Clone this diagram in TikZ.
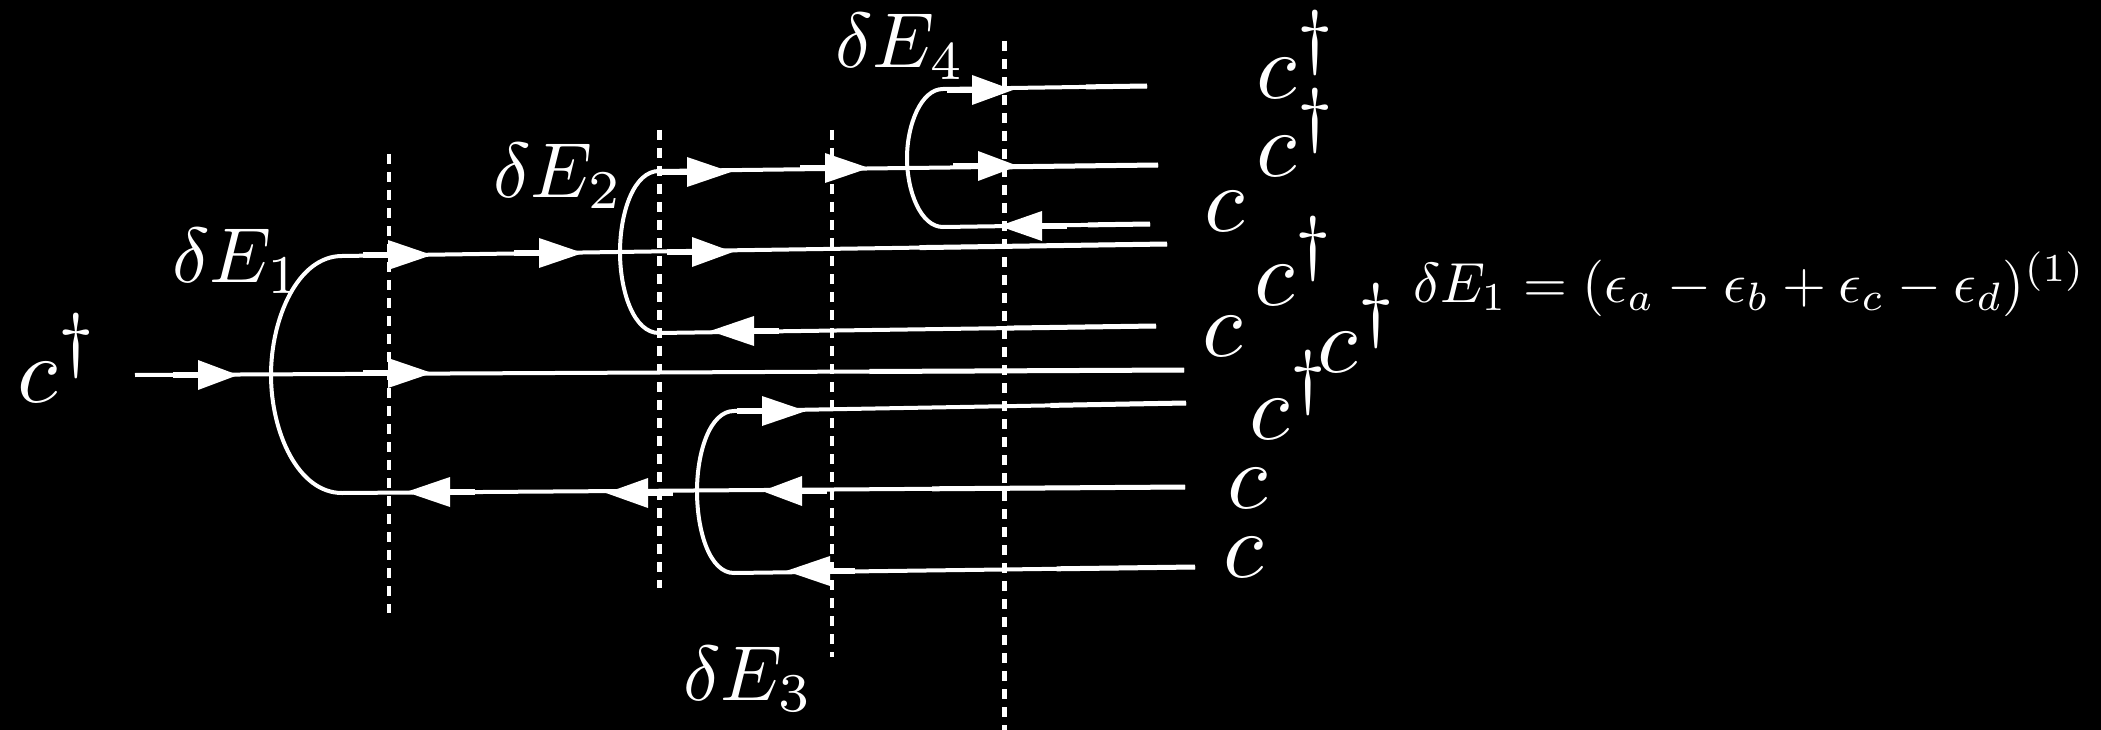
\documentclass[tikz,border=0pt]{standalone}
\usepackage{graphicx}
\usetikzlibrary{calc}
\newcommand{\dg}{\raisebox{0.5pt}{\scalebox{1.1}{$\scriptstyle\dagger$}}}
\begin{document}
\begin{tikzpicture}[x=1pt,y=-1pt,
  wline/.style={draw=white,line width=4pt},
  wend/.style={draw=white,line width=5pt},
  dline/.style={draw=white,line width=4.6pt,dash pattern=on 10pt off 8pt},
  op/.style={text=white,inner sep=0pt,outer sep=0pt,anchor=base west,scale=9.3},
  lab/.style={text=white,inner sep=0pt,outer sep=0pt,anchor=base west,scale=7.8},
  eqn/.style={text=white,inner sep=0pt,outer sep=0pt,anchor=base west,scale=5.65}]
\newcommand{\rarr}[3]{\fill[white] (#1,#3-15)--(#2,#3)--(#1,#3+15)--cycle; \draw[white,line width=6.5pt] (#1-25,#3)--(#1+1,#3);}
\newcommand{\larr}[3]{\fill[white] (#2,#3-15)--(#1,#3)--(#2,#3+15)--cycle; \draw[white,line width=6.5pt] (#2-1,#3)--(#2+25,#3);}
\fill[black] (0,0) rectangle (2101,730);
\useasboundingbox (0,0) rectangle (2101,730);
% cuts
\coordinate (c1t) at (389,154); \coordinate (c1b) at (389,613);
\coordinate (c2t) at (659.5,130); \coordinate (c2b) at (659.5,588);
\coordinate (c3t) at (832,130); \coordinate (c3b) at (832,657);
\coordinate (c4t) at (1004.5,41); \coordinate (c4b) at (1004.5,730);
\draw[dline] (c1t)--(c1b);
\draw[dline] (c2t)--(c2b);
\draw[dline] (c3t)--(c3b);
\draw[dline] (c4t)--(c4b);
% through line
\coordinate (inL) at (135,375); \coordinate (inR) at (1184,370);
\draw[wline] (inL)--(inR);
\draw[wend] (inR)--($(inR)!0.3!(inL)$);
% loop 1
\coordinate (l1t) at (342,256); \coordinate (l1b) at (342,493);
\coordinate (l1e) at (1167,244); \coordinate (l1f) at (1185,487);
\draw[wline] (l1e)--(l1t) .. controls (298,256) and (271,318) .. (271,375) .. controls (271,432) and (298,493) .. (l1b)--(l1f);
\draw[wend] (l1e)--($(l1e)!0.3!(l1t)$);
\draw[wend] (l1f)--($(l1f)!0.3!(l1b)$);
% loop 2
\coordinate (l2t) at (659,171); \coordinate (l2b) at (659,333);
\coordinate (l2e) at (1158,165); \coordinate (l2f) at (1156,326);
\draw[wline] (l2e)--(l2t) .. controls (634,171) and (620,212) .. (620,252) .. controls (620,292) and (634,333) .. (l2b)--(l2f);
\draw[wend] (l2e)--($(l2e)!0.3!(l2t)$);
\draw[wend] (l2f)--($(l2f)!0.3!(l2b)$);
% loop 3
\coordinate (l3t) at (734,411); \coordinate (l3b) at (734,573);
\coordinate (l3e) at (1186,403); \coordinate (l3f) at (1195,567);
\draw[wline] (l3e)--(l3t) .. controls (710,411) and (697,452) .. (697,491) .. controls (697,532) and (710,573) .. (l3b)--(l3f);
\draw[wend] (l3e)--($(l3e)!0.3!(l3t)$);
\draw[wend] (l3f)--($(l3f)!0.3!(l3b)$);
% loop 4
\coordinate (l4t) at (943,89); \coordinate (l4b) at (943,227);
\coordinate (l4e) at (1147,86); \coordinate (l4f) at (1150,224);
\draw[wline] (l4e)--(l4t) .. controls (921,89) and (907,125) .. (907,158) .. controls (907,192) and (921,227) .. (l4b)--(l4f);
\draw[wend] (l4e)--($(l4e)!0.3!(l4t)$);
\draw[wend] (l4f)--($(l4f)!0.3!(l4b)$);
% arrows
\rarr{198}{238}{375}
\rarr{388}{432}{373}
\rarr{388}{432}{255}
\rarr{539}{583}{253}
\rarr{692}{733}{252}
\rarr{687}{731}{172}
\rarr{825}{869}{168}
\rarr{978}{1018}{166}
\rarr{972}{1013}{90}
\rarr{762}{806}{411}
\larr{406}{450}{492}
\larr{606}{648}{493}
\larr{762}{802}{491}
\larr{710}{754}{331}
\larr{786}{830}{571}
\larr{999}{1042}{226}
% operators
\node[op] (a0) at (17,402) {$c^{\dg}$};
\node[op] (a1) at (1256,99) {$c^{\dg}$};
\node[op] (a2) at (1256,177) {$c^{\dg}$};
\node[op] (a3) at (1204,231) {$c$};
\node[op] (a4) at (1254,305) {$c^{\dg}$};
\node[op] (a5) at (1202,356) {$c$};
\node[op] (a6) at (1317,372) {$c^{\dg}$};
\node[op] (a7) at (1249,439) {$c^{\dg}$};
\node[op] (a8) at (1227,508) {$c$};
\node[op] (a9) at (1223,577) {$c$};
% energies
\node[lab] (e1) at (172,282) {$\delta E_1$};
\node[lab] (e2) at (493,197) {$\delta E_2$};
\node[lab] (e4) at (835,68) {$\delta E_4$};
\node[lab] (e3) at (683,700) {$\delta E_3$};
\node[eqn] (eq) at (1413,302) {$\delta E_1=(\epsilon_a-\epsilon_b+\epsilon_c-\epsilon_d)^{(1)}$};
\end{tikzpicture}
\end{document}
